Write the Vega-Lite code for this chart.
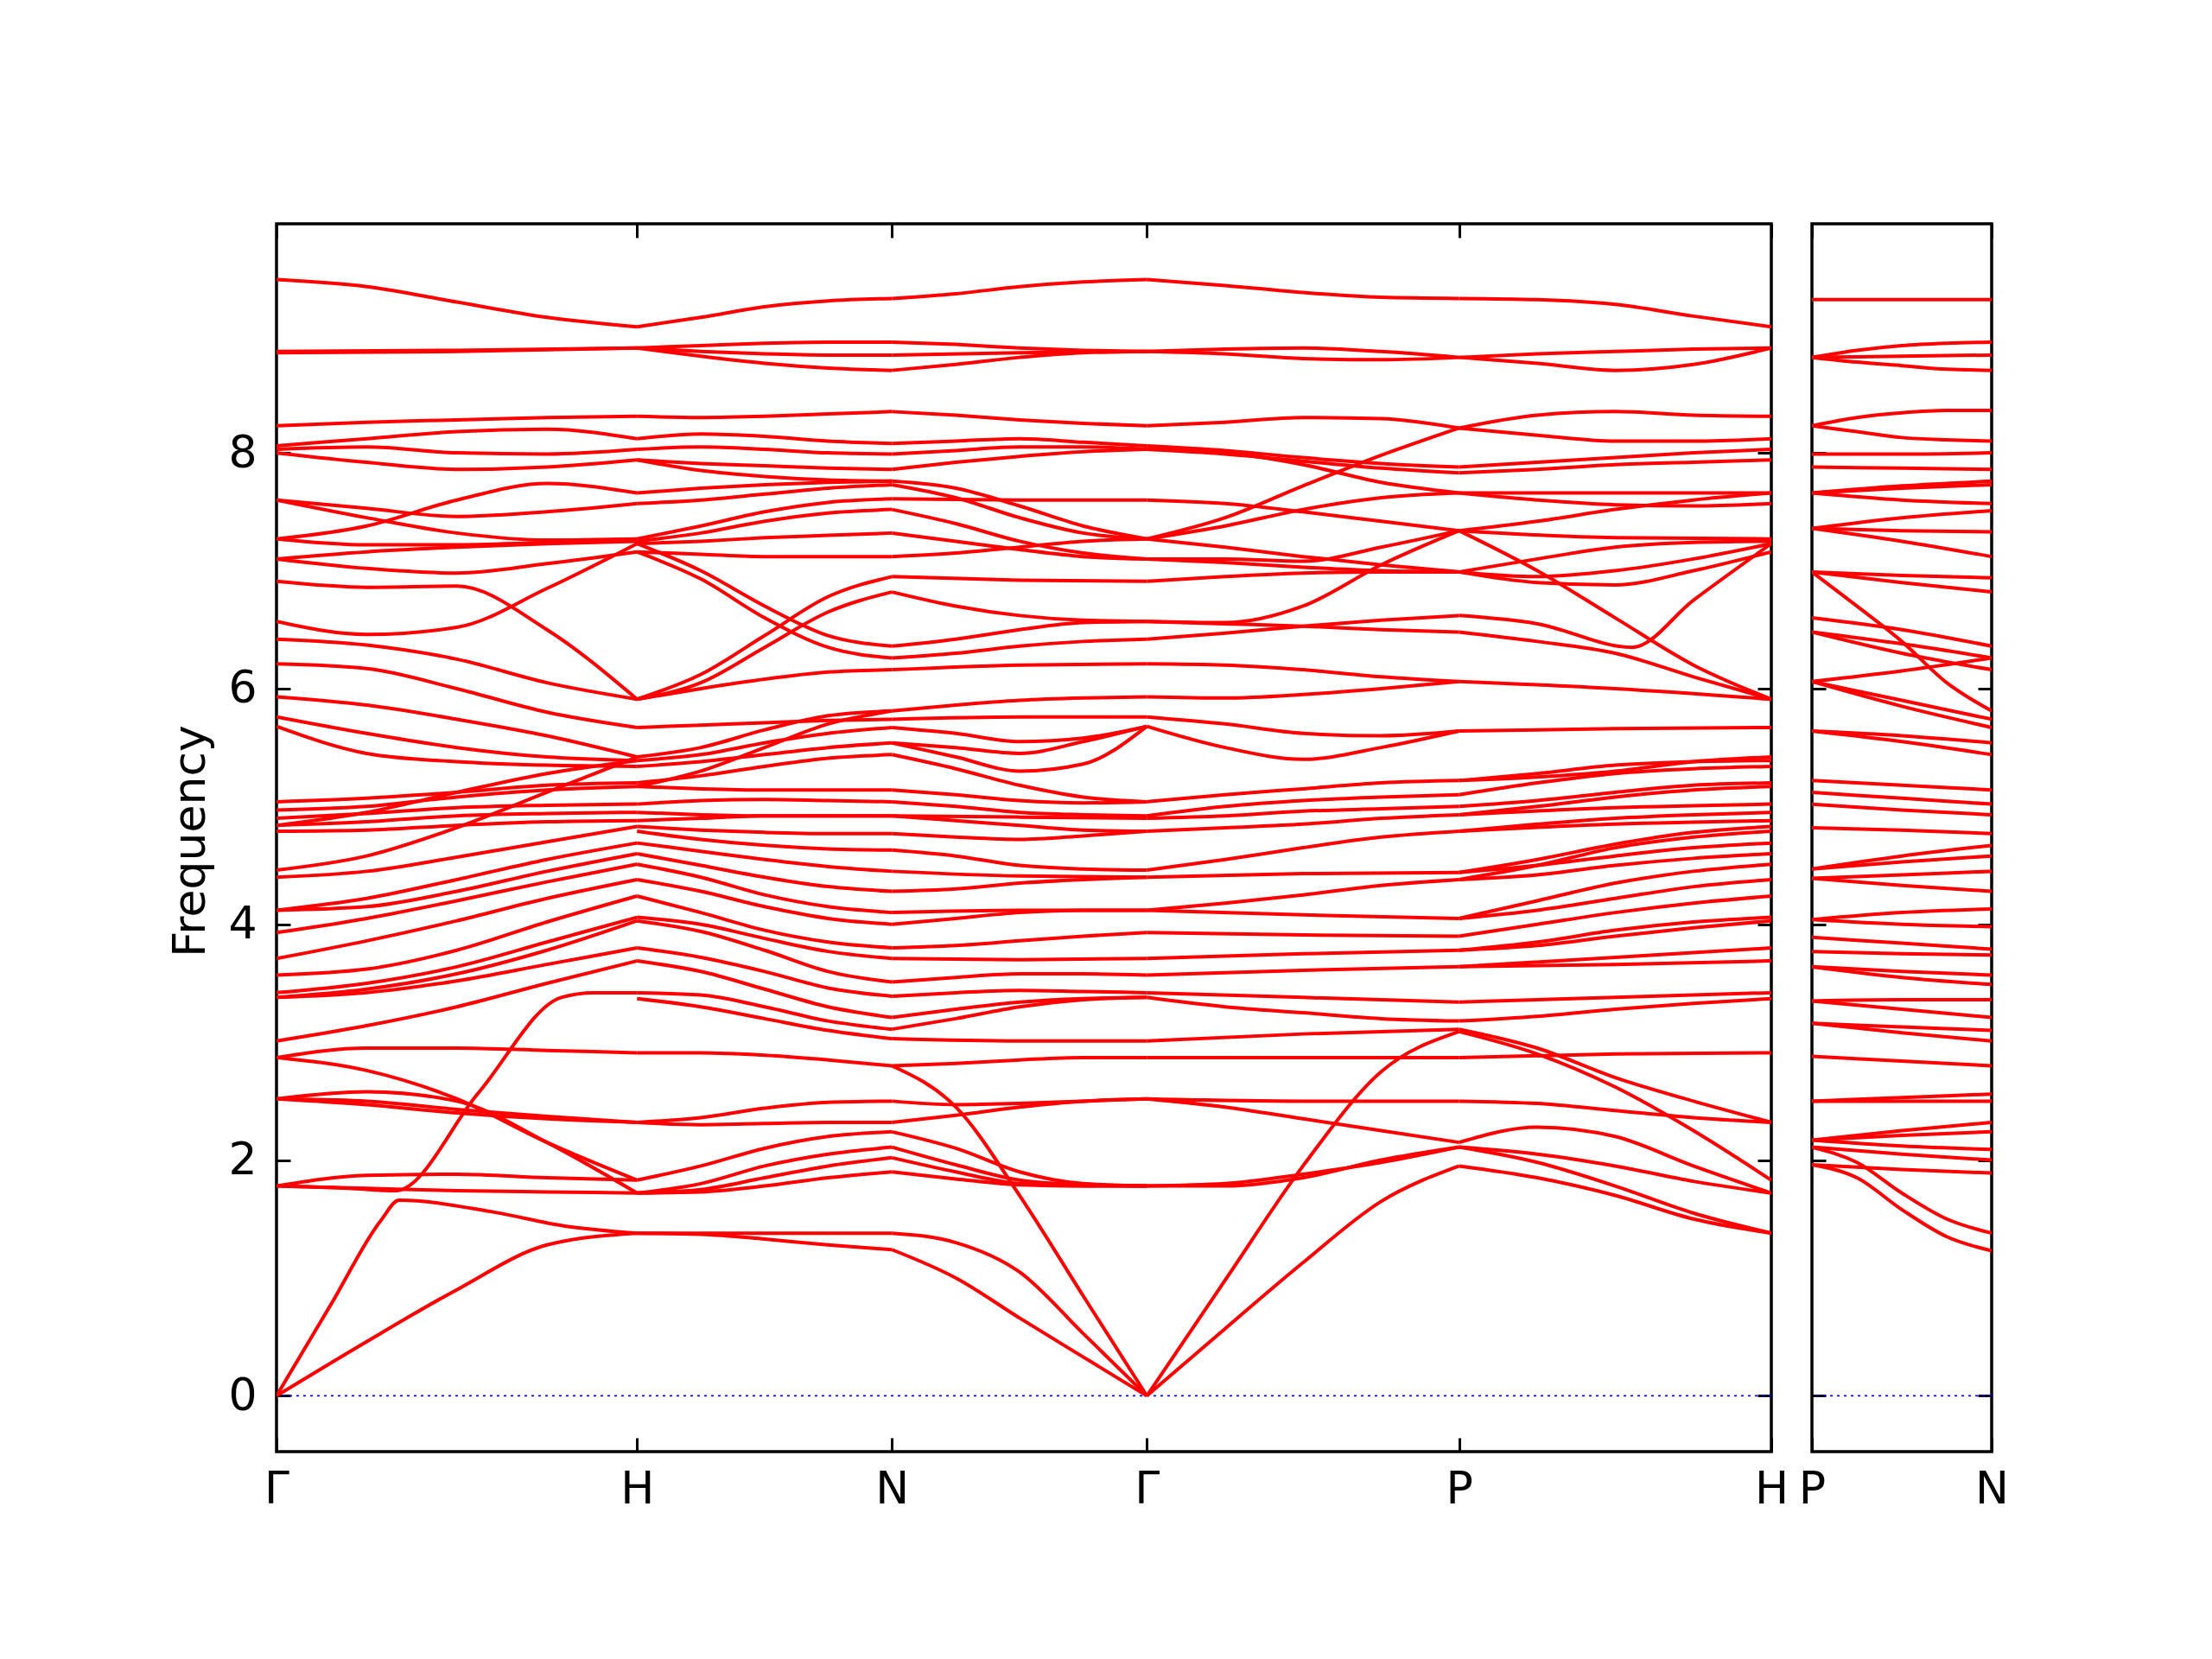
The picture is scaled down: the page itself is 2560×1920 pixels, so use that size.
{
"$schema":"https://vega.github.io/schema/vega-lite/v6.json",
"background":"white",
"padding":{"left":192,"top":255,"right":5,"bottom":5},
"spacing":7,
"config":{"view":{"stroke":"black","strokeWidth":3.5},"axis":{"domain":false,"grid":false,"tickColor":"black","tickWidth":3,"tickSize":-16,"labelFont":"DejaVu Sans","labelFontSize":52,"labelColor":"black","labelPadding":39,"titleFont":"DejaVu Sans","titleFontSize":52,"titleFontWeight":"normal","titleColor":"black"}},
"datasets":{
"main":[
{"k":"a1","x":0,"y":9.47},{"k":"a1","x":0.25,"y":9.41},{"k":"a1","x":0.5,"y":9.28},{"k":"a1","x":0.75,"y":9.15},{"k":"a1","x":1,"y":9.07},
{"k":"a2","x":0,"y":8.86},{"k":"a2","x":0.5,"y":8.87},{"k":"a2","x":1,"y":8.89},
{"k":"a3","x":0,"y":8.85},{"k":"a3","x":0.5,"y":8.86},{"k":"a3","x":1,"y":8.89},
{"k":"a4","x":0,"y":8.23},{"k":"a4","x":0.25,"y":8.26},{"k":"a4","x":0.5,"y":8.28},{"k":"a4","x":0.75,"y":8.3},{"k":"a4","x":1,"y":8.31},
{"k":"a5","x":0,"y":8.06},{"k":"a5","x":0.25,"y":8.12},{"k":"a5","x":0.5,"y":8.18},{"k":"a5","x":0.75,"y":8.2},{"k":"a5","x":1,"y":8.12},
{"k":"a6","x":0,"y":8.03},{"k":"a6","x":0.25,"y":8.05},{"k":"a6","x":0.5,"y":8.0},{"k":"a6","x":0.75,"y":7.99},{"k":"a6","x":1,"y":8.03},
{"k":"a7","x":0,"y":8.0},{"k":"a7","x":0.25,"y":7.92},{"k":"a7","x":0.5,"y":7.86},{"k":"a7","x":0.75,"y":7.88},{"k":"a7","x":1,"y":7.94},
{"k":"a8","x":0,"y":7.6},{"k":"a8","x":0.25,"y":7.53},{"k":"a8","x":0.5,"y":7.46},{"k":"a8","x":0.75,"y":7.5},{"k":"a8","x":1,"y":7.57},
{"k":"a9","x":0,"y":7.27},{"k":"a9","x":0.25,"y":7.38},{"k":"a9","x":0.5,"y":7.6},{"k":"a9","x":0.75,"y":7.74},{"k":"a9","x":1,"y":7.66},
{"k":"a10","x":0,"y":7.27},{"k":"a10","x":0.25,"y":7.22},{"k":"a10","x":0.5,"y":7.22},{"k":"a10","x":0.75,"y":7.24},{"k":"a10","x":1,"y":7.27},
{"k":"a11","x":0,"y":7.1},{"k":"a11","x":0.25,"y":7.16},{"k":"a11","x":0.5,"y":7.2},{"k":"a11","x":0.75,"y":7.23},{"k":"a11","x":1,"y":7.25},
{"k":"a12","x":0,"y":7.1},{"k":"a12","x":0.25,"y":7.02},{"k":"a12","x":0.5,"y":6.98},{"k":"a12","x":0.75,"y":7.06},{"k":"a12","x":1,"y":7.16},
{"k":"a13","x":0,"y":6.91},{"k":"a13","x":0.25,"y":6.86},{"k":"a13","x":0.5,"y":6.87},{"k":"a13","x":0.75,"y":6.5},{"k":"a13","x":1,"y":5.91},
{"k":"a14","x":0,"y":6.57},{"k":"a14","x":0.25,"y":6.46},{"k":"a14","x":0.5,"y":6.52},{"k":"a14","x":0.75,"y":6.85},{"k":"a14","x":1,"y":7.23},
{"k":"a15","x":0,"y":6.42},{"k":"a15","x":0.25,"y":6.37},{"k":"a15","x":0.5,"y":6.25},{"k":"a15","x":0.75,"y":6.05},{"k":"a15","x":1,"y":5.91},
{"k":"a16","x":0,"y":6.21},{"k":"a16","x":0.25,"y":6.17},{"k":"a16","x":0.5,"y":6.0},{"k":"a16","x":0.75,"y":5.8},{"k":"a16","x":1,"y":5.67},
{"k":"a17","x":0,"y":5.93},{"k":"a17","x":0.25,"y":5.86},{"k":"a17","x":0.5,"y":5.74},{"k":"a17","x":0.75,"y":5.6},{"k":"a17","x":1,"y":5.42},
{"k":"a18","x":0,"y":5.76},{"k":"a18","x":0.25,"y":5.62},{"k":"a18","x":0.5,"y":5.5},{"k":"a18","x":0.75,"y":5.42},{"k":"a18","x":1,"y":5.39},
{"k":"a19","x":0,"y":5.68},{"k":"a19","x":0.25,"y":5.45},{"k":"a19","x":0.5,"y":5.38},{"k":"a19","x":0.75,"y":5.35},{"k":"a19","x":1,"y":5.34},
{"k":"a20","x":0,"y":5.04},{"k":"a20","x":0.25,"y":5.07},{"k":"a20","x":0.5,"y":5.12},{"k":"a20","x":0.75,"y":5.18},{"k":"a20","x":1,"y":5.2},
{"k":"a21","x":0,"y":4.97},{"k":"a21","x":0.25,"y":5.0},{"k":"a21","x":0.5,"y":5.08},{"k":"a21","x":0.75,"y":5.14},{"k":"a21","x":1,"y":5.17},
{"k":"a22","x":0,"y":4.9},{"k":"a22","x":0.25,"y":4.94},{"k":"a22","x":0.5,"y":4.99},{"k":"a22","x":0.75,"y":5.01},{"k":"a22","x":1,"y":5.02},
{"k":"a23","x":0,"y":4.84},{"k":"a23","x":0.25,"y":4.87},{"k":"a23","x":0.5,"y":4.92},{"k":"a23","x":0.75,"y":4.94},{"k":"a23","x":1,"y":4.95},
{"k":"a24","x":0,"y":4.79},{"k":"a24","x":0.25,"y":4.8},{"k":"a24","x":0.5,"y":4.84},{"k":"a24","x":0.75,"y":4.87},{"k":"a24","x":1,"y":4.88},
{"k":"a25","x":0,"y":4.46},{"k":"a25","x":0.25,"y":4.58},{"k":"a25","x":0.5,"y":4.82},{"k":"a25","x":0.75,"y":5.12},{"k":"a25","x":1,"y":5.42},
{"k":"a26","x":0,"y":4.4},{"k":"a26","x":0.25,"y":4.45},{"k":"a26","x":0.5,"y":4.57},{"k":"a26","x":0.75,"y":4.7},{"k":"a26","x":1,"y":4.83},
{"k":"a27","x":0,"y":4.12},{"k":"a27","x":0.25,"y":4.22},{"k":"a27","x":0.5,"y":4.38},{"k":"a27","x":0.75,"y":4.55},{"k":"a27","x":1,"y":4.69},
{"k":"a28","x":0,"y":4.12},{"k":"a28","x":0.25,"y":4.15},{"k":"a28","x":0.5,"y":4.28},{"k":"a28","x":0.75,"y":4.45},{"k":"a28","x":1,"y":4.6},
{"k":"a29","x":0,"y":3.93},{"k":"a29","x":0.25,"y":4.05},{"k":"a29","x":0.5,"y":4.2},{"k":"a29","x":0.75,"y":4.36},{"k":"a29","x":1,"y":4.51},
{"k":"a30","x":0,"y":3.71},{"k":"a30","x":0.25,"y":3.86},{"k":"a30","x":0.5,"y":4.03},{"k":"a30","x":0.75,"y":4.22},{"k":"a30","x":1,"y":4.38},
{"k":"a31","x":0,"y":3.57},{"k":"a31","x":0.25,"y":3.62},{"k":"a31","x":0.5,"y":3.78},{"k":"a31","x":0.75,"y":4.02},{"k":"a31","x":1,"y":4.24},
{"k":"a32","x":0,"y":3.42},{"k":"a32","x":0.25,"y":3.5},{"k":"a32","x":0.5,"y":3.64},{"k":"a32","x":0.75,"y":3.85},{"k":"a32","x":1,"y":4.06},
{"k":"a33","x":0,"y":3.38},{"k":"a33","x":0.25,"y":3.45},{"k":"a33","x":0.5,"y":3.58},{"k":"a33","x":0.75,"y":3.78},{"k":"a33","x":1,"y":4.03},
{"k":"a34","x":0,"y":3.38},{"k":"a34","x":0.25,"y":3.42},{"k":"a34","x":0.5,"y":3.52},{"k":"a34","x":0.75,"y":3.66},{"k":"a34","x":1,"y":3.8},
{"k":"a35","x":0,"y":3.01},{"k":"a35","x":0.25,"y":3.14},{"k":"a35","x":0.5,"y":3.3},{"k":"a35","x":0.75,"y":3.5},{"k":"a35","x":1,"y":3.69},
{"k":"a36","x":0,"y":2.87},{"k":"a36","x":0.25,"y":2.95},{"k":"a36","x":0.5,"y":2.95},{"k":"a36","x":0.75,"y":2.93},{"k":"a36","x":1,"y":2.91},
{"k":"a37","x":0,"y":2.87},{"k":"a37","x":0.25,"y":2.76},{"k":"a37","x":0.5,"y":2.52},{"k":"a37","x":0.75,"y":2.15},{"k":"a37","x":1,"y":1.83},
{"k":"a38","x":0,"y":2.52},{"k":"a38","x":0.25,"y":2.58},{"k":"a38","x":0.5,"y":2.5},{"k":"a38","x":0.75,"y":2.15},{"k":"a38","x":1,"y":1.72},
{"k":"a39","x":0,"y":2.52},{"k":"a39","x":0.25,"y":2.47},{"k":"a39","x":0.5,"y":2.4},{"k":"a39","x":0.75,"y":2.35},{"k":"a39","x":1,"y":2.32},
{"k":"a40","x":0,"y":2.52},{"k":"a40","x":0.25,"y":2.5},{"k":"a40","x":0.5,"y":2.43},{"k":"a40","x":0.75,"y":2.37},{"k":"a40","x":1,"y":2.32},
{"k":"a41","x":0,"y":1.78},{"k":"a41","x":0.25,"y":1.87},{"k":"a41","x":0.5,"y":1.88},{"k":"a41","x":0.75,"y":1.85},{"k":"a41","x":1,"y":1.83},
{"k":"a42","x":0,"y":1.78},{"k":"a42","x":0.25,"y":1.76},{"k":"a42","x":0.5,"y":1.74},{"k":"a42","x":0.75,"y":1.73},{"k":"a42","x":1,"y":1.72},
{"k":"a43","x":0,"y":1.78},{"k":"a43","x":0.2,"y":1.76},{"k":"a43","x":0.33,"y":1.74},{"k":"a43","x":0.56,"y":2.57},{"k":"a43","x":0.79,"y":3.38},{"k":"a43","x":0.88,"y":3.42},{"k":"a43","x":1,"y":3.42},
{"k":"a44","x":0,"y":0},{"k":"a44","x":0.15,"y":0.77},{"k":"a44","x":0.29,"y":1.49},{"k":"a44","x":0.34,"y":1.66},{"k":"a44","x":0.6,"y":1.56},{"k":"a44","x":0.8,"y":1.44},{"k":"a44","x":1,"y":1.38},
{"k":"a45","x":0,"y":0},{"k":"a45","x":0.25,"y":0.46},{"k":"a45","x":0.5,"y":0.9},{"k":"a45","x":0.75,"y":1.28},{"k":"a45","x":1,"y":1.38},
{"k":"a46","x":0,"y":7.6},{"k":"a46","x":0.25,"y":7.45},{"k":"a46","x":0.5,"y":7.32},{"k":"a46","x":0.75,"y":7.26},{"k":"a46","x":1,"y":7.27},
{"k":"a47","x":0,"y":4.84},{"k":"a47","x":0.25,"y":4.95},{"k":"a47","x":0.5,"y":5.12},{"k":"a47","x":0.75,"y":5.28},{"k":"a47","x":1,"y":5.39},

{"k":"b1","x":1,"y":9.07},{"k":"b1","x":1.177,"y":9.15},{"k":"b1","x":1.354,"y":9.24},{"k":"b1","x":1.53,"y":9.29},{"k":"b1","x":1.707,"y":9.31},
{"k":"b2","x":1,"y":8.89},{"k":"b2","x":1.177,"y":8.91},{"k":"b2","x":1.354,"y":8.93},{"k":"b2","x":1.53,"y":8.94},{"k":"b2","x":1.707,"y":8.94},
{"k":"b3","x":1,"y":8.89},{"k":"b3","x":1.177,"y":8.86},{"k":"b3","x":1.354,"y":8.84},{"k":"b3","x":1.53,"y":8.83},{"k":"b3","x":1.707,"y":8.83},
{"k":"b4","x":1,"y":8.89},{"k":"b4","x":1.177,"y":8.82},{"k":"b4","x":1.354,"y":8.76},{"k":"b4","x":1.53,"y":8.72},{"k":"b4","x":1.707,"y":8.7},
{"k":"b5","x":1,"y":8.31},{"k":"b5","x":1.177,"y":8.3},{"k":"b5","x":1.354,"y":8.31},{"k":"b5","x":1.53,"y":8.33},{"k":"b5","x":1.707,"y":8.35},
{"k":"b6","x":1,"y":8.12},{"k":"b6","x":1.177,"y":8.16},{"k":"b6","x":1.354,"y":8.14},{"k":"b6","x":1.53,"y":8.1},{"k":"b6","x":1.707,"y":8.08},
{"k":"b7","x":1,"y":8.03},{"k":"b7","x":1.177,"y":8.05},{"k":"b7","x":1.354,"y":8.03},{"k":"b7","x":1.53,"y":8.0},{"k":"b7","x":1.707,"y":7.99},
{"k":"b8","x":1,"y":7.94},{"k":"b8","x":1.177,"y":7.91},{"k":"b8","x":1.354,"y":7.89},{"k":"b8","x":1.53,"y":7.87},{"k":"b8","x":1.707,"y":7.86},
{"k":"b9","x":1,"y":7.66},{"k":"b9","x":1.177,"y":7.7},{"k":"b9","x":1.354,"y":7.73},{"k":"b9","x":1.53,"y":7.75},{"k":"b9","x":1.707,"y":7.76},
{"k":"b10","x":1,"y":7.57},{"k":"b10","x":1.177,"y":7.6},{"k":"b10","x":1.354,"y":7.65},{"k":"b10","x":1.53,"y":7.7},{"k":"b10","x":1.707,"y":7.73},
{"k":"b11","x":1,"y":7.27},{"k":"b11","x":1.177,"y":7.38},{"k":"b11","x":1.354,"y":7.5},{"k":"b11","x":1.53,"y":7.58},{"k":"b11","x":1.707,"y":7.61},
{"k":"b12","x":1,"y":7.25},{"k":"b12","x":1.177,"y":7.32},{"k":"b12","x":1.354,"y":7.42},{"k":"b12","x":1.53,"y":7.49},{"k":"b12","x":1.707,"y":7.52},
{"k":"b13","x":1,"y":7.23},{"k":"b13","x":1.177,"y":7.25},{"k":"b13","x":1.354,"y":7.28},{"k":"b13","x":1.53,"y":7.3},{"k":"b13","x":1.707,"y":7.32},
{"k":"b14","x":1,"y":7.16},{"k":"b14","x":1.177,"y":7.14},{"k":"b14","x":1.354,"y":7.12},{"k":"b14","x":1.53,"y":7.12},{"k":"b14","x":1.707,"y":7.12},
{"k":"b15","x":1,"y":7.23},{"k":"b15","x":1.177,"y":7.0},{"k":"b15","x":1.354,"y":6.7},{"k":"b15","x":1.53,"y":6.45},{"k":"b15","x":1.707,"y":6.36},
{"k":"b16","x":1,"y":7.16},{"k":"b16","x":1.177,"y":6.93},{"k":"b16","x":1.354,"y":6.6},{"k":"b16","x":1.53,"y":6.35},{"k":"b16","x":1.707,"y":6.26},
{"k":"b17","x":1,"y":5.91},{"k":"b17","x":1.177,"y":6.12},{"k":"b17","x":1.354,"y":6.45},{"k":"b17","x":1.53,"y":6.78},{"k":"b17","x":1.707,"y":6.95},
{"k":"b18","x":1,"y":5.91},{"k":"b18","x":1.177,"y":6.05},{"k":"b18","x":1.354,"y":6.35},{"k":"b18","x":1.53,"y":6.65},{"k":"b18","x":1.707,"y":6.82},
{"k":"b19","x":1,"y":5.91},{"k":"b19","x":1.177,"y":6.0},{"k":"b19","x":1.354,"y":6.08},{"k":"b19","x":1.53,"y":6.14},{"k":"b19","x":1.707,"y":6.16},
{"k":"b20","x":1,"y":5.67},{"k":"b20","x":1.177,"y":5.69},{"k":"b20","x":1.354,"y":5.71},{"k":"b20","x":1.53,"y":5.73},{"k":"b20","x":1.707,"y":5.74},
{"k":"b21","x":1,"y":5.42},{"k":"b21","x":1.177,"y":5.5},{"k":"b21","x":1.354,"y":5.65},{"k":"b21","x":1.53,"y":5.77},{"k":"b21","x":1.707,"y":5.81},
{"k":"b22","x":1,"y":5.39},{"k":"b22","x":1.177,"y":5.44},{"k":"b22","x":1.354,"y":5.54},{"k":"b22","x":1.53,"y":5.62},{"k":"b22","x":1.707,"y":5.67},
{"k":"b23","x":1,"y":5.34},{"k":"b23","x":1.177,"y":5.38},{"k":"b23","x":1.354,"y":5.44},{"k":"b23","x":1.53,"y":5.5},{"k":"b23","x":1.707,"y":5.54},
{"k":"b24","x":1,"y":5.2},{"k":"b24","x":1.177,"y":5.26},{"k":"b24","x":1.354,"y":5.34},{"k":"b24","x":1.53,"y":5.41},{"k":"b24","x":1.707,"y":5.44},
{"k":"b25","x":1,"y":5.17},{"k":"b25","x":1.177,"y":5.15},{"k":"b25","x":1.354,"y":5.14},{"k":"b25","x":1.53,"y":5.14},{"k":"b25","x":1.707,"y":5.14},
{"k":"b26","x":1,"y":5.02},{"k":"b26","x":1.177,"y":5.05},{"k":"b26","x":1.354,"y":5.06},{"k":"b26","x":1.53,"y":5.05},{"k":"b26","x":1.707,"y":5.04},
{"k":"b27","x":1,"y":4.95},{"k":"b27","x":1.177,"y":4.93},{"k":"b27","x":1.354,"y":4.92},{"k":"b27","x":1.53,"y":4.92},{"k":"b27","x":1.707,"y":4.92},
{"k":"b28","x":1,"y":4.88},{"k":"b28","x":1.177,"y":4.9},{"k":"b28","x":1.354,"y":4.92},{"k":"b28","x":1.53,"y":4.92},{"k":"b28","x":1.707,"y":4.92},
{"k":"b29","x":1,"y":4.83},{"k":"b29","x":1.177,"y":4.8},{"k":"b29","x":1.354,"y":4.78},{"k":"b29","x":1.53,"y":4.77},{"k":"b29","x":1.707,"y":4.77},
{"k":"b30","x":1,"y":4.79},{"k":"b30","x":1.177,"y":4.72},{"k":"b30","x":1.354,"y":4.67},{"k":"b30","x":1.53,"y":4.64},{"k":"b30","x":1.707,"y":4.63},
{"k":"b31","x":1,"y":4.69},{"k":"b31","x":1.177,"y":4.62},{"k":"b31","x":1.354,"y":4.55},{"k":"b31","x":1.53,"y":4.49},{"k":"b31","x":1.707,"y":4.45},
{"k":"b32","x":1,"y":4.6},{"k":"b32","x":1.177,"y":4.5},{"k":"b32","x":1.354,"y":4.4},{"k":"b32","x":1.53,"y":4.32},{"k":"b32","x":1.707,"y":4.28},
{"k":"b33","x":1,"y":4.51},{"k":"b33","x":1.177,"y":4.4},{"k":"b33","x":1.354,"y":4.25},{"k":"b33","x":1.53,"y":4.15},{"k":"b33","x":1.707,"y":4.1},
{"k":"b34","x":1,"y":4.38},{"k":"b34","x":1.177,"y":4.28},{"k":"b34","x":1.354,"y":4.15},{"k":"b34","x":1.53,"y":4.05},{"k":"b34","x":1.707,"y":4.0},
{"k":"b35","x":1,"y":4.24},{"k":"b35","x":1.177,"y":4.1},{"k":"b35","x":1.354,"y":3.95},{"k":"b35","x":1.53,"y":3.85},{"k":"b35","x":1.707,"y":3.8},
{"k":"b36","x":1,"y":4.06},{"k":"b36","x":1.177,"y":4.0},{"k":"b36","x":1.354,"y":3.88},{"k":"b36","x":1.53,"y":3.77},{"k":"b36","x":1.707,"y":3.71},
{"k":"b37","x":1,"y":4.03},{"k":"b37","x":1.177,"y":3.94},{"k":"b37","x":1.354,"y":3.78},{"k":"b37","x":1.53,"y":3.6},{"k":"b37","x":1.707,"y":3.51},
{"k":"b38","x":1,"y":3.8},{"k":"b38","x":1.177,"y":3.72},{"k":"b38","x":1.354,"y":3.6},{"k":"b38","x":1.53,"y":3.46},{"k":"b38","x":1.707,"y":3.39},
{"k":"b39","x":1,"y":3.69},{"k":"b39","x":1.177,"y":3.6},{"k":"b39","x":1.354,"y":3.45},{"k":"b39","x":1.53,"y":3.3},{"k":"b39","x":1.707,"y":3.21},
{"k":"b40","x":1,"y":3.42},{"k":"b40","x":1.177,"y":3.4},{"k":"b40","x":1.354,"y":3.3},{"k":"b40","x":1.53,"y":3.18},{"k":"b40","x":1.707,"y":3.11},
{"k":"b41","x":1,"y":3.37},{"k":"b41","x":1.177,"y":3.3},{"k":"b41","x":1.354,"y":3.2},{"k":"b41","x":1.53,"y":3.1},{"k":"b41","x":1.707,"y":3.03},
{"k":"b42","x":1,"y":2.91},{"k":"b42","x":1.177,"y":2.91},{"k":"b42","x":1.354,"y":2.89},{"k":"b42","x":1.53,"y":2.85},{"k":"b42","x":1.707,"y":2.8},
{"k":"b43","x":1,"y":2.32},{"k":"b43","x":1.177,"y":2.36},{"k":"b43","x":1.354,"y":2.44},{"k":"b43","x":1.53,"y":2.49},{"k":"b43","x":1.707,"y":2.5},
{"k":"b44","x":1,"y":2.32},{"k":"b44","x":1.177,"y":2.3},{"k":"b44","x":1.354,"y":2.31},{"k":"b44","x":1.53,"y":2.32},{"k":"b44","x":1.707,"y":2.32},
{"k":"b45","x":1,"y":1.83},{"k":"b45","x":1.177,"y":1.95},{"k":"b45","x":1.354,"y":2.1},{"k":"b45","x":1.53,"y":2.2},{"k":"b45","x":1.707,"y":2.24},
{"k":"b46","x":1,"y":1.72},{"k":"b46","x":1.177,"y":1.8},{"k":"b46","x":1.354,"y":1.95},{"k":"b46","x":1.53,"y":2.05},{"k":"b46","x":1.707,"y":2.11},
{"k":"b47","x":1,"y":1.72},{"k":"b47","x":1.177,"y":1.75},{"k":"b47","x":1.354,"y":1.85},{"k":"b47","x":1.53,"y":1.95},{"k":"b47","x":1.707,"y":2.02},
{"k":"b48","x":1,"y":1.72},{"k":"b48","x":1.177,"y":1.73},{"k":"b48","x":1.354,"y":1.78},{"k":"b48","x":1.53,"y":1.85},{"k":"b48","x":1.707,"y":1.9},
{"k":"b49","x":1,"y":1.38},{"k":"b49","x":1.354,"y":1.38},{"k":"b49","x":1.707,"y":1.38},
{"k":"b50","x":1,"y":1.38},{"k":"b50","x":1.177,"y":1.37},{"k":"b50","x":1.354,"y":1.33},{"k":"b50","x":1.53,"y":1.28},{"k":"b50","x":1.707,"y":1.24},
{"k":"b51","x":1,"y":7.94},{"k":"b51","x":1.177,"y":7.85},{"k":"b51","x":1.354,"y":7.8},{"k":"b51","x":1.53,"y":7.77},{"k":"b51","x":1.707,"y":7.76},
{"k":"b52","x":1,"y":5.17},{"k":"b52","x":1.177,"y":5.3},{"k":"b52","x":1.354,"y":5.5},{"k":"b52","x":1.53,"y":5.7},{"k":"b52","x":1.707,"y":5.81},

{"k":"c1","x":1.707,"y":9.31},{"k":"c1","x":1.884,"y":9.35},{"k":"c1","x":2.061,"y":9.41},{"k":"c1","x":2.237,"y":9.45},{"k":"c1","x":2.414,"y":9.47},
{"k":"c2","x":1.707,"y":8.94},{"k":"c2","x":1.884,"y":8.92},{"k":"c2","x":2.061,"y":8.89},{"k":"c2","x":2.237,"y":8.87},{"k":"c2","x":2.414,"y":8.86},
{"k":"c3","x":1.707,"y":8.83},{"k":"c3","x":2.061,"y":8.85},{"k":"c3","x":2.414,"y":8.86},
{"k":"c4","x":1.707,"y":8.7},{"k":"c4","x":1.884,"y":8.75},{"k":"c4","x":2.061,"y":8.81},{"k":"c4","x":2.237,"y":8.85},{"k":"c4","x":2.414,"y":8.86},
{"k":"c5","x":1.707,"y":8.35},{"k":"c5","x":1.884,"y":8.32},{"k":"c5","x":2.061,"y":8.28},{"k":"c5","x":2.237,"y":8.25},{"k":"c5","x":2.414,"y":8.23},
{"k":"c6","x":1.707,"y":8.08},{"k":"c6","x":1.884,"y":8.1},{"k":"c6","x":2.061,"y":8.12},{"k":"c6","x":2.237,"y":8.09},{"k":"c6","x":2.414,"y":8.06},
{"k":"c7","x":1.707,"y":7.99},{"k":"c7","x":1.884,"y":8.02},{"k":"c7","x":2.061,"y":8.05},{"k":"c7","x":2.237,"y":8.05},{"k":"c7","x":2.414,"y":8.03},
{"k":"c8","x":1.707,"y":7.86},{"k":"c8","x":1.884,"y":7.92},{"k":"c8","x":2.061,"y":7.97},{"k":"c8","x":2.237,"y":8.01},{"k":"c8","x":2.414,"y":8.03},
{"k":"c9","x":1.707,"y":7.76},{"k":"c9","x":1.884,"y":7.7},{"k":"c9","x":2.061,"y":7.55},{"k":"c9","x":2.237,"y":7.38},{"k":"c9","x":2.414,"y":7.27},
{"k":"c10","x":1.707,"y":7.73},{"k":"c10","x":1.884,"y":7.62},{"k":"c10","x":2.061,"y":7.45},{"k":"c10","x":2.237,"y":7.32},{"k":"c10","x":2.414,"y":7.27},
{"k":"c11","x":1.707,"y":7.61},{"k":"c11","x":2.061,"y":7.6},{"k":"c11","x":2.414,"y":7.6},
{"k":"c12","x":1.707,"y":7.52},{"k":"c12","x":1.884,"y":7.4},{"k":"c12","x":2.061,"y":7.25},{"k":"c12","x":2.237,"y":7.15},{"k":"c12","x":2.414,"y":7.1},
{"k":"c13","x":1.707,"y":7.32},{"k":"c13","x":1.884,"y":7.25},{"k":"c13","x":2.061,"y":7.18},{"k":"c13","x":2.237,"y":7.12},{"k":"c13","x":2.414,"y":7.1},
{"k":"c14","x":1.707,"y":7.12},{"k":"c14","x":1.884,"y":7.15},{"k":"c14","x":2.061,"y":7.2},{"k":"c14","x":2.237,"y":7.25},{"k":"c14","x":2.414,"y":7.27},
{"k":"c15","x":1.707,"y":6.95},{"k":"c15","x":2.061,"y":6.92},{"k":"c15","x":2.414,"y":6.91},
{"k":"c16","x":1.707,"y":6.82},{"k":"c16","x":1.884,"y":6.7},{"k":"c16","x":2.061,"y":6.62},{"k":"c16","x":2.237,"y":6.58},{"k":"c16","x":2.414,"y":6.57},
{"k":"c17","x":1.707,"y":6.36},{"k":"c17","x":1.884,"y":6.42},{"k":"c17","x":2.061,"y":6.5},{"k":"c17","x":2.237,"y":6.56},{"k":"c17","x":2.414,"y":6.57},
{"k":"c18","x":1.707,"y":6.26},{"k":"c18","x":1.884,"y":6.3},{"k":"c18","x":2.061,"y":6.36},{"k":"c18","x":2.237,"y":6.4},{"k":"c18","x":2.414,"y":6.42},
{"k":"c19","x":1.707,"y":6.16},{"k":"c19","x":2.061,"y":6.2},{"k":"c19","x":2.414,"y":6.21},
{"k":"c20","x":1.707,"y":5.81},{"k":"c20","x":1.884,"y":5.86},{"k":"c20","x":2.061,"y":5.9},{"k":"c20","x":2.237,"y":5.92},{"k":"c20","x":2.414,"y":5.93},
{"k":"c21","x":1.707,"y":5.74},{"k":"c21","x":2.061,"y":5.76},{"k":"c21","x":2.414,"y":5.76},
{"k":"c22","x":1.707,"y":5.67},{"k":"c22","x":1.884,"y":5.62},{"k":"c22","x":2.061,"y":5.55},{"k":"c22","x":2.237,"y":5.58},{"k":"c22","x":2.414,"y":5.68},
{"k":"c23","x":1.707,"y":5.54},{"k":"c23","x":1.884,"y":5.5},{"k":"c23","x":2.061,"y":5.45},{"k":"c23","x":2.237,"y":5.55},{"k":"c23","x":2.414,"y":5.68},
{"k":"c24","x":1.707,"y":5.44},{"k":"c24","x":1.884,"y":5.32},{"k":"c24","x":2.061,"y":5.18},{"k":"c24","x":2.237,"y":5.08},{"k":"c24","x":2.414,"y":5.04},
{"k":"c25","x":1.707,"y":5.14},{"k":"c25","x":1.884,"y":5.1},{"k":"c25","x":2.061,"y":5.05},{"k":"c25","x":2.237,"y":5.03},{"k":"c25","x":2.414,"y":5.04},
{"k":"c26","x":1.707,"y":5.04},{"k":"c26","x":1.884,"y":5.0},{"k":"c26","x":2.061,"y":4.95},{"k":"c26","x":2.237,"y":4.93},{"k":"c26","x":2.414,"y":4.92},
{"k":"c27","x":1.707,"y":4.92},{"k":"c27","x":2.061,"y":4.91},{"k":"c27","x":2.414,"y":4.9},
{"k":"c28","x":1.707,"y":4.92},{"k":"c28","x":1.884,"y":4.88},{"k":"c28","x":2.061,"y":4.84},{"k":"c28","x":2.237,"y":4.8},{"k":"c28","x":2.414,"y":4.79},
{"k":"c29","x":1.707,"y":4.77},{"k":"c29","x":1.884,"y":4.74},{"k":"c29","x":2.061,"y":4.72},{"k":"c29","x":2.237,"y":4.75},{"k":"c29","x":2.414,"y":4.79},
{"k":"c30","x":1.707,"y":4.63},{"k":"c30","x":1.884,"y":4.58},{"k":"c30","x":2.061,"y":4.5},{"k":"c30","x":2.237,"y":4.47},{"k":"c30","x":2.414,"y":4.46},
{"k":"c31","x":1.707,"y":4.45},{"k":"c31","x":2.061,"y":4.41},{"k":"c31","x":2.414,"y":4.4},
{"k":"c32","x":1.707,"y":4.28},{"k":"c32","x":1.884,"y":4.3},{"k":"c32","x":2.061,"y":4.35},{"k":"c32","x":2.237,"y":4.38},{"k":"c32","x":2.414,"y":4.4},
{"k":"c33","x":1.707,"y":4.1},{"k":"c33","x":2.061,"y":4.12},{"k":"c33","x":2.414,"y":4.12},
{"k":"c34","x":1.707,"y":4.0},{"k":"c34","x":1.884,"y":4.05},{"k":"c34","x":2.061,"y":4.1},{"k":"c34","x":2.237,"y":4.12},{"k":"c34","x":2.414,"y":4.12},
{"k":"c35","x":1.707,"y":3.8},{"k":"c35","x":1.884,"y":3.82},{"k":"c35","x":2.061,"y":3.86},{"k":"c35","x":2.237,"y":3.9},{"k":"c35","x":2.414,"y":3.93},
{"k":"c36","x":1.707,"y":3.71},{"k":"c36","x":2.061,"y":3.7},{"k":"c36","x":2.414,"y":3.71},
{"k":"c37","x":1.707,"y":3.51},{"k":"c37","x":1.884,"y":3.55},{"k":"c37","x":2.061,"y":3.58},{"k":"c37","x":2.237,"y":3.58},{"k":"c37","x":2.414,"y":3.57},
{"k":"c38","x":1.707,"y":3.39},{"k":"c38","x":1.884,"y":3.42},{"k":"c38","x":2.061,"y":3.44},{"k":"c38","x":2.237,"y":3.43},{"k":"c38","x":2.414,"y":3.42},
{"k":"c39","x":1.707,"y":3.21},{"k":"c39","x":1.884,"y":3.28},{"k":"c39","x":2.061,"y":3.34},{"k":"c39","x":2.237,"y":3.37},{"k":"c39","x":2.414,"y":3.38},
{"k":"c40","x":1.707,"y":3.11},{"k":"c40","x":1.884,"y":3.2},{"k":"c40","x":2.061,"y":3.3},{"k":"c40","x":2.237,"y":3.36},{"k":"c40","x":2.414,"y":3.38},
{"k":"c41","x":1.707,"y":3.03},{"k":"c41","x":2.061,"y":3.01},{"k":"c41","x":2.414,"y":3.01},
{"k":"c42","x":1.707,"y":2.8},{"k":"c42","x":1.884,"y":2.82},{"k":"c42","x":2.061,"y":2.85},{"k":"c42","x":2.237,"y":2.87},{"k":"c42","x":2.414,"y":2.87},
{"k":"c43","x":1.707,"y":2.5},{"k":"c43","x":1.884,"y":2.47},{"k":"c43","x":2.061,"y":2.48},{"k":"c43","x":2.237,"y":2.5},{"k":"c43","x":2.414,"y":2.52},
{"k":"c44","x":1.707,"y":2.32},{"k":"c44","x":1.884,"y":2.38},{"k":"c44","x":2.061,"y":2.45},{"k":"c44","x":2.237,"y":2.5},{"k":"c44","x":2.414,"y":2.52},
{"k":"c45","x":1.707,"y":2.24},{"k":"c45","x":1.884,"y":2.1},{"k":"c45","x":2.061,"y":1.9},{"k":"c45","x":2.237,"y":1.8},{"k":"c45","x":2.414,"y":1.78},
{"k":"c46","x":1.707,"y":2.11},{"k":"c46","x":1.884,"y":1.96},{"k":"c46","x":2.061,"y":1.83},{"k":"c46","x":2.237,"y":1.79},{"k":"c46","x":2.414,"y":1.78},
{"k":"c47","x":1.707,"y":2.02},{"k":"c47","x":1.884,"y":1.9},{"k":"c47","x":2.061,"y":1.8},{"k":"c47","x":2.237,"y":1.78},{"k":"c47","x":2.414,"y":1.78},
{"k":"c48","x":1.707,"y":1.9},{"k":"c48","x":1.884,"y":1.84},{"k":"c48","x":2.061,"y":1.79},{"k":"c48","x":2.237,"y":1.78},{"k":"c48","x":2.414,"y":1.78},
{"k":"c49","x":1.707,"y":2.8},{"k":"c49","x":1.884,"y":2.45},{"k":"c49","x":2.061,"y":1.7},{"k":"c49","x":2.237,"y":0.85},{"k":"c49","x":2.414,"y":0},
{"k":"c50","x":1.707,"y":1.38},{"k":"c50","x":1.884,"y":1.3},{"k":"c50","x":2.061,"y":1.05},{"k":"c50","x":2.237,"y":0.53},{"k":"c50","x":2.414,"y":0},
{"k":"c51","x":1.707,"y":1.24},{"k":"c51","x":1.884,"y":1.0},{"k":"c51","x":2.061,"y":0.66},{"k":"c51","x":2.237,"y":0.33},{"k":"c51","x":2.414,"y":0},
{"k":"c52","x":1.707,"y":5.54},{"k":"c52","x":1.884,"y":5.42},{"k":"c52","x":2.061,"y":5.3},{"k":"c52","x":2.237,"y":5.36},{"k":"c52","x":2.414,"y":5.68},

{"k":"d1","x":2.414,"y":9.47},{"k":"d1","x":2.631,"y":9.42},{"k":"d1","x":2.847,"y":9.36},{"k":"d1","x":3.064,"y":9.32},{"k":"d1","x":3.28,"y":9.31},
{"k":"d2","x":2.414,"y":8.86},{"k":"d2","x":2.631,"y":8.88},{"k":"d2","x":2.847,"y":8.89},{"k":"d2","x":3.064,"y":8.86},{"k":"d2","x":3.28,"y":8.81},
{"k":"d3","x":2.414,"y":8.86},{"k":"d3","x":2.631,"y":8.84},{"k":"d3","x":2.847,"y":8.8},{"k":"d3","x":3.064,"y":8.79},{"k":"d3","x":3.28,"y":8.81},
{"k":"d4","x":2.414,"y":8.23},{"k":"d4","x":2.631,"y":8.26},{"k":"d4","x":2.847,"y":8.3},{"k":"d4","x":3.064,"y":8.29},{"k":"d4","x":3.28,"y":8.21},
{"k":"d5","x":2.414,"y":8.06},{"k":"d5","x":2.631,"y":8.02},{"k":"d5","x":2.847,"y":7.96},{"k":"d5","x":3.064,"y":7.91},{"k":"d5","x":3.28,"y":7.88},
{"k":"d6","x":2.414,"y":8.03},{"k":"d6","x":2.631,"y":7.99},{"k":"d6","x":2.847,"y":7.93},{"k":"d6","x":3.064,"y":7.87},{"k":"d6","x":3.28,"y":7.83},
{"k":"d7","x":2.414,"y":7.27},{"k":"d7","x":2.631,"y":7.45},{"k":"d7","x":2.847,"y":7.72},{"k":"d7","x":3.064,"y":7.98},{"k":"d7","x":3.28,"y":8.21},
{"k":"d8","x":2.414,"y":7.27},{"k":"d8","x":2.631,"y":7.38},{"k":"d8","x":2.847,"y":7.52},{"k":"d8","x":3.064,"y":7.62},{"k":"d8","x":3.28,"y":7.66},
{"k":"d9","x":2.414,"y":7.6},{"k":"d9","x":2.631,"y":7.57},{"k":"d9","x":2.847,"y":7.5},{"k":"d9","x":3.064,"y":7.42},{"k":"d9","x":3.28,"y":7.34},
{"k":"d10","x":2.414,"y":7.27},{"k":"d10","x":2.631,"y":7.2},{"k":"d10","x":2.847,"y":7.12},{"k":"d10","x":3.064,"y":7.05},{"k":"d10","x":3.28,"y":6.99},
{"k":"d11","x":2.414,"y":7.1},{"k":"d11","x":2.631,"y":7.07},{"k":"d11","x":2.847,"y":7.03},{"k":"d11","x":3.064,"y":7.0},{"k":"d11","x":3.28,"y":6.99},
{"k":"d12","x":2.414,"y":7.1},{"k":"d12","x":2.631,"y":7.1},{"k":"d12","x":2.847,"y":7.08},{"k":"d12","x":3.064,"y":7.2},{"k":"d12","x":3.28,"y":7.34},
{"k":"d13","x":2.414,"y":6.91},{"k":"d13","x":2.631,"y":6.95},{"k":"d13","x":2.847,"y":6.98},{"k":"d13","x":3.064,"y":6.99},{"k":"d13","x":3.28,"y":6.99},
{"k":"d14","x":2.414,"y":6.57},{"k":"d14","x":2.631,"y":6.56},{"k":"d14","x":2.847,"y":6.7},{"k":"d14","x":3.064,"y":7.05},{"k":"d14","x":3.28,"y":7.34},
{"k":"d15","x":2.414,"y":6.57},{"k":"d15","x":2.631,"y":6.55},{"k":"d15","x":2.847,"y":6.53},{"k":"d15","x":3.064,"y":6.5},{"k":"d15","x":3.28,"y":6.48},
{"k":"d16","x":2.414,"y":6.42},{"k":"d16","x":2.631,"y":6.47},{"k":"d16","x":2.847,"y":6.53},{"k":"d16","x":3.064,"y":6.58},{"k":"d16","x":3.28,"y":6.62},
{"k":"d17","x":2.414,"y":6.21},{"k":"d17","x":2.631,"y":6.2},{"k":"d17","x":2.847,"y":6.16},{"k":"d17","x":3.064,"y":6.1},{"k":"d17","x":3.28,"y":6.06},
{"k":"d18","x":2.414,"y":5.93},{"k":"d18","x":2.631,"y":5.92},{"k":"d18","x":2.847,"y":5.95},{"k":"d18","x":3.064,"y":6.0},{"k":"d18","x":3.28,"y":6.06},
{"k":"d19","x":2.414,"y":5.76},{"k":"d19","x":2.631,"y":5.7},{"k":"d19","x":2.847,"y":5.62},{"k":"d19","x":3.064,"y":5.6},{"k":"d19","x":3.28,"y":5.64},
{"k":"d20","x":2.414,"y":5.68},{"k":"d20","x":2.631,"y":5.5},{"k":"d20","x":2.847,"y":5.4},{"k":"d20","x":3.064,"y":5.5},{"k":"d20","x":3.28,"y":5.64},
{"k":"d21","x":2.414,"y":5.04},{"k":"d21","x":2.631,"y":5.1},{"k":"d21","x":2.847,"y":5.15},{"k":"d21","x":3.064,"y":5.2},{"k":"d21","x":3.28,"y":5.22},
{"k":"d22","x":2.414,"y":4.92},{"k":"d22","x":2.631,"y":5.0},{"k":"d22","x":2.847,"y":5.05},{"k":"d22","x":3.064,"y":5.08},{"k":"d22","x":3.28,"y":5.1},
{"k":"d23","x":2.414,"y":4.9},{"k":"d23","x":2.631,"y":4.92},{"k":"d23","x":2.847,"y":4.96},{"k":"d23","x":3.064,"y":4.98},{"k":"d23","x":3.28,"y":5.0},
{"k":"d24","x":2.414,"y":4.79},{"k":"d24","x":2.631,"y":4.82},{"k":"d24","x":2.847,"y":4.85},{"k":"d24","x":3.064,"y":4.9},{"k":"d24","x":3.28,"y":4.93},
{"k":"d25","x":2.414,"y":4.46},{"k":"d25","x":2.631,"y":4.55},{"k":"d25","x":2.847,"y":4.65},{"k":"d25","x":3.064,"y":4.74},{"k":"d25","x":3.28,"y":4.79},
{"k":"d26","x":2.414,"y":4.4},{"k":"d26","x":2.847,"y":4.43},{"k":"d26","x":3.28,"y":4.44},
{"k":"d27","x":2.414,"y":4.12},{"k":"d27","x":2.631,"y":4.18},{"k":"d27","x":2.847,"y":4.25},{"k":"d27","x":3.064,"y":4.33},{"k":"d27","x":3.28,"y":4.38},
{"k":"d28","x":2.414,"y":4.12},{"k":"d28","x":2.847,"y":4.08},{"k":"d28","x":3.28,"y":4.05},
{"k":"d29","x":2.414,"y":3.93},{"k":"d29","x":2.847,"y":3.91},{"k":"d29","x":3.28,"y":3.9},
{"k":"d30","x":2.414,"y":3.71},{"k":"d30","x":2.847,"y":3.75},{"k":"d30","x":3.28,"y":3.78},
{"k":"d31","x":2.414,"y":3.57},{"k":"d31","x":2.847,"y":3.61},{"k":"d31","x":3.28,"y":3.64},
{"k":"d32","x":2.414,"y":3.42},{"k":"d32","x":2.847,"y":3.38},{"k":"d32","x":3.28,"y":3.34},
{"k":"d33","x":2.414,"y":3.38},{"k":"d33","x":2.631,"y":3.3},{"k":"d33","x":2.847,"y":3.25},{"k":"d33","x":3.064,"y":3.2},{"k":"d33","x":3.28,"y":3.18},
{"k":"d34","x":2.414,"y":3.01},{"k":"d34","x":2.847,"y":3.07},{"k":"d34","x":3.28,"y":3.11},
{"k":"d35","x":2.414,"y":2.87},{"k":"d35","x":2.847,"y":2.87},{"k":"d35","x":3.28,"y":2.87},
{"k":"d36","x":2.414,"y":2.52},{"k":"d36","x":2.847,"y":2.5},{"k":"d36","x":3.28,"y":2.5},
{"k":"d37","x":2.414,"y":2.52},{"k":"d37","x":2.631,"y":2.45},{"k":"d37","x":2.847,"y":2.35},{"k":"d37","x":3.064,"y":2.25},{"k":"d37","x":3.28,"y":2.15},
{"k":"d38","x":2.414,"y":1.78},{"k":"d38","x":2.631,"y":1.78},{"k":"d38","x":2.847,"y":1.85},{"k":"d38","x":3.064,"y":2.0},{"k":"d38","x":3.28,"y":2.11},
{"k":"d39","x":2.414,"y":1.78},{"k":"d39","x":2.631,"y":1.8},{"k":"d39","x":2.847,"y":1.88},{"k":"d39","x":3.064,"y":1.98},{"k":"d39","x":3.28,"y":2.11},
{"k":"d40","x":2.414,"y":0},{"k":"d40","x":2.631,"y":0.98},{"k":"d40","x":2.847,"y":1.95},{"k":"d40","x":3.064,"y":2.75},{"k":"d40","x":3.28,"y":3.09},
{"k":"d41","x":2.414,"y":0},{"k":"d41","x":2.631,"y":0.57},{"k":"d41","x":2.847,"y":1.13},{"k":"d41","x":3.064,"y":1.65},{"k":"d41","x":3.28,"y":1.95},
{"k":"d42","x":2.414,"y":8.03},{"k":"d42","x":2.631,"y":8.0},{"k":"d42","x":2.847,"y":7.9},{"k":"d42","x":3.064,"y":7.75},{"k":"d42","x":3.28,"y":7.66},

{"k":"e1","x":3.28,"y":9.31},{"k":"e1","x":3.497,"y":9.3},{"k":"e1","x":3.713,"y":9.26},{"k":"e1","x":3.93,"y":9.16},{"k":"e1","x":4.146,"y":9.07},
{"k":"e2","x":3.28,"y":8.81},{"k":"e2","x":3.497,"y":8.84},{"k":"e2","x":3.713,"y":8.86},{"k":"e2","x":3.93,"y":8.88},{"k":"e2","x":4.146,"y":8.89},
{"k":"e3","x":3.28,"y":8.81},{"k":"e3","x":3.497,"y":8.76},{"k":"e3","x":3.713,"y":8.7},{"k":"e3","x":3.93,"y":8.75},{"k":"e3","x":4.146,"y":8.89},
{"k":"e4","x":3.28,"y":8.21},{"k":"e4","x":3.497,"y":8.32},{"k":"e4","x":3.713,"y":8.35},{"k":"e4","x":3.93,"y":8.32},{"k":"e4","x":4.146,"y":8.31},
{"k":"e5","x":3.28,"y":8.21},{"k":"e5","x":3.497,"y":8.15},{"k":"e5","x":3.713,"y":8.1},{"k":"e5","x":3.93,"y":8.1},{"k":"e5","x":4.146,"y":8.12},
{"k":"e6","x":3.28,"y":7.88},{"k":"e6","x":3.497,"y":7.92},{"k":"e6","x":3.713,"y":7.96},{"k":"e6","x":3.93,"y":8.0},{"k":"e6","x":4.146,"y":8.03},
{"k":"e7","x":3.28,"y":7.83},{"k":"e7","x":3.497,"y":7.86},{"k":"e7","x":3.713,"y":7.9},{"k":"e7","x":3.93,"y":7.92},{"k":"e7","x":4.146,"y":7.94},
{"k":"e8","x":3.28,"y":7.66},{"k":"e8","x":3.713,"y":7.66},{"k":"e8","x":4.146,"y":7.66},
{"k":"e9","x":3.28,"y":7.66},{"k":"e9","x":3.497,"y":7.6},{"k":"e9","x":3.713,"y":7.56},{"k":"e9","x":3.93,"y":7.55},{"k":"e9","x":4.146,"y":7.57},
{"k":"e10","x":3.28,"y":7.34},{"k":"e10","x":3.713,"y":7.28},{"k":"e10","x":4.146,"y":7.27},
{"k":"e11","x":3.28,"y":6.99},{"k":"e11","x":3.497,"y":7.1},{"k":"e11","x":3.713,"y":7.2},{"k":"e11","x":3.93,"y":7.24},{"k":"e11","x":4.146,"y":7.25},
{"k":"e12","x":3.28,"y":6.99},{"k":"e12","x":3.497,"y":6.95},{"k":"e12","x":3.713,"y":7.0},{"k":"e12","x":3.93,"y":7.1},{"k":"e12","x":4.146,"y":7.23},
{"k":"e13","x":3.28,"y":6.99},{"k":"e13","x":3.497,"y":6.9},{"k":"e13","x":3.713,"y":6.88},{"k":"e13","x":3.93,"y":7.0},{"k":"e13","x":4.146,"y":7.16},
{"k":"e14","x":3.28,"y":6.62},{"k":"e14","x":3.497,"y":6.55},{"k":"e14","x":3.76,"y":6.35},{"k":"e14","x":3.93,"y":6.75},{"k":"e14","x":4.146,"y":7.23},
{"k":"e15","x":3.28,"y":7.34},{"k":"e15","x":3.497,"y":7.0},{"k":"e15","x":3.713,"y":6.6},{"k":"e15","x":3.93,"y":6.2},{"k":"e15","x":4.146,"y":5.91},
{"k":"e16","x":3.28,"y":6.48},{"k":"e16","x":3.497,"y":6.4},{"k":"e16","x":3.713,"y":6.3},{"k":"e16","x":3.93,"y":6.1},{"k":"e16","x":4.146,"y":5.91},
{"k":"e17","x":3.28,"y":6.06},{"k":"e17","x":3.713,"y":6.0},{"k":"e17","x":4.146,"y":5.91},
{"k":"e18","x":3.28,"y":5.64},{"k":"e18","x":3.713,"y":5.66},{"k":"e18","x":4.146,"y":5.67},
{"k":"e19","x":3.28,"y":5.22},{"k":"e19","x":3.497,"y":5.25},{"k":"e19","x":3.713,"y":5.3},{"k":"e19","x":3.93,"y":5.38},{"k":"e19","x":4.146,"y":5.42},
{"k":"e20","x":3.28,"y":5.22},{"k":"e20","x":3.497,"y":5.28},{"k":"e20","x":3.713,"y":5.35},{"k":"e20","x":3.93,"y":5.38},{"k":"e20","x":4.146,"y":5.39},
{"k":"e21","x":3.28,"y":5.1},{"k":"e21","x":3.497,"y":5.2},{"k":"e21","x":3.713,"y":5.28},{"k":"e21","x":3.93,"y":5.32},{"k":"e21","x":4.146,"y":5.34},
{"k":"e22","x":3.28,"y":5.0},{"k":"e22","x":3.497,"y":5.05},{"k":"e22","x":3.713,"y":5.12},{"k":"e22","x":3.93,"y":5.18},{"k":"e22","x":4.146,"y":5.2},
{"k":"e23","x":3.28,"y":4.93},{"k":"e23","x":3.497,"y":5.0},{"k":"e23","x":3.713,"y":5.08},{"k":"e23","x":3.93,"y":5.14},{"k":"e23","x":4.146,"y":5.17},
{"k":"e24","x":3.28,"y":4.93},{"k":"e24","x":3.713,"y":4.99},{"k":"e24","x":4.146,"y":5.02},
{"k":"e25","x":3.28,"y":4.79},{"k":"e25","x":3.497,"y":4.85},{"k":"e25","x":3.713,"y":4.9},{"k":"e25","x":3.93,"y":4.93},{"k":"e25","x":4.146,"y":4.95},
{"k":"e26","x":3.28,"y":4.79},{"k":"e26","x":3.713,"y":4.85},{"k":"e26","x":4.146,"y":4.88},
{"k":"e27","x":3.28,"y":4.44},{"k":"e27","x":3.497,"y":4.55},{"k":"e27","x":3.713,"y":4.68},{"k":"e27","x":3.93,"y":4.78},{"k":"e27","x":4.146,"y":4.83},
{"k":"e28","x":3.28,"y":4.38},{"k":"e28","x":3.497,"y":4.5},{"k":"e28","x":3.713,"y":4.65},{"k":"e28","x":3.93,"y":4.74},{"k":"e28","x":4.146,"y":4.79},
{"k":"e29","x":3.28,"y":4.44},{"k":"e29","x":3.497,"y":4.5},{"k":"e29","x":3.713,"y":4.58},{"k":"e29","x":3.93,"y":4.65},{"k":"e29","x":4.146,"y":4.69},
{"k":"e30","x":3.28,"y":4.38},{"k":"e30","x":3.497,"y":4.42},{"k":"e30","x":3.713,"y":4.5},{"k":"e30","x":3.93,"y":4.56},{"k":"e30","x":4.146,"y":4.6},
{"k":"e31","x":3.28,"y":4.05},{"k":"e31","x":3.497,"y":4.2},{"k":"e31","x":3.713,"y":4.35},{"k":"e31","x":3.93,"y":4.45},{"k":"e31","x":4.146,"y":4.51},
{"k":"e32","x":3.28,"y":4.05},{"k":"e32","x":3.497,"y":4.12},{"k":"e32","x":3.713,"y":4.22},{"k":"e32","x":3.93,"y":4.32},{"k":"e32","x":4.146,"y":4.38},
{"k":"e33","x":3.28,"y":3.9},{"k":"e33","x":3.497,"y":4.0},{"k":"e33","x":3.713,"y":4.1},{"k":"e33","x":3.93,"y":4.18},{"k":"e33","x":4.146,"y":4.24},
{"k":"e34","x":3.28,"y":3.78},{"k":"e34","x":3.497,"y":3.85},{"k":"e34","x":3.713,"y":3.95},{"k":"e34","x":3.93,"y":4.02},{"k":"e34","x":4.146,"y":4.06},
{"k":"e35","x":3.28,"y":3.78},{"k":"e35","x":3.497,"y":3.82},{"k":"e35","x":3.713,"y":3.9},{"k":"e35","x":3.93,"y":3.97},{"k":"e35","x":4.146,"y":4.03},
{"k":"e36","x":3.28,"y":3.64},{"k":"e36","x":3.713,"y":3.72},{"k":"e36","x":4.146,"y":3.8},
{"k":"e37","x":3.28,"y":3.64},{"k":"e37","x":3.713,"y":3.66},{"k":"e37","x":4.146,"y":3.69},
{"k":"e38","x":3.28,"y":3.34},{"k":"e38","x":3.713,"y":3.38},{"k":"e38","x":4.146,"y":3.42},
{"k":"e39","x":3.28,"y":3.18},{"k":"e39","x":3.497,"y":3.22},{"k":"e39","x":3.713,"y":3.28},{"k":"e39","x":3.93,"y":3.33},{"k":"e39","x":4.146,"y":3.37},
{"k":"e40","x":3.28,"y":2.87},{"k":"e40","x":3.713,"y":2.9},{"k":"e40","x":4.146,"y":2.91},
{"k":"e41","x":3.28,"y":3.11},{"k":"e41","x":3.497,"y":2.95},{"k":"e41","x":3.713,"y":2.7},{"k":"e41","x":3.93,"y":2.5},{"k":"e41","x":4.146,"y":2.32},
{"k":"e42","x":3.28,"y":3.09},{"k":"e42","x":3.497,"y":2.9},{"k":"e42","x":3.713,"y":2.62},{"k":"e42","x":3.93,"y":2.25},{"k":"e42","x":4.146,"y":1.83},
{"k":"e43","x":3.28,"y":2.5},{"k":"e43","x":3.497,"y":2.48},{"k":"e43","x":3.713,"y":2.42},{"k":"e43","x":3.93,"y":2.36},{"k":"e43","x":4.146,"y":2.32},
{"k":"e44","x":3.28,"y":2.15},{"k":"e44","x":3.497,"y":2.28},{"k":"e44","x":3.713,"y":2.2},{"k":"e44","x":3.93,"y":1.95},{"k":"e44","x":4.146,"y":1.72},
{"k":"e45","x":3.28,"y":2.11},{"k":"e45","x":3.497,"y":2.05},{"k":"e45","x":3.713,"y":1.95},{"k":"e45","x":3.93,"y":1.82},{"k":"e45","x":4.146,"y":1.72},
{"k":"e46","x":3.28,"y":2.11},{"k":"e46","x":3.497,"y":1.98},{"k":"e46","x":3.713,"y":1.78},{"k":"e46","x":3.93,"y":1.55},{"k":"e46","x":4.146,"y":1.38},
{"k":"e47","x":3.28,"y":1.95},{"k":"e47","x":3.497,"y":1.85},{"k":"e47","x":3.713,"y":1.7},{"k":"e47","x":3.93,"y":1.5},{"k":"e47","x":4.146,"y":1.38},
{"k":"e48","x":3.28,"y":7.34},{"k":"e48","x":3.497,"y":7.42},{"k":"e48","x":3.713,"y":7.52},{"k":"e48","x":3.93,"y":7.6},{"k":"e48","x":4.146,"y":7.66}
],
"side":[
{"k":"f1","x":0,"y":9.3},{"k":"f1","x":0.25,"y":9.3},{"k":"f1","x":0.5,"y":9.3},
{"k":"f2","x":0,"y":8.81},{"k":"f2","x":0.125,"y":8.87},{"k":"f2","x":0.25,"y":8.91},{"k":"f2","x":0.375,"y":8.93},{"k":"f2","x":0.5,"y":8.94},
{"k":"f3","x":0,"y":8.81},{"k":"f3","x":0.25,"y":8.82},{"k":"f3","x":0.5,"y":8.83},
{"k":"f4","x":0,"y":8.81},{"k":"f4","x":0.125,"y":8.77},{"k":"f4","x":0.25,"y":8.74},{"k":"f4","x":0.375,"y":8.71},{"k":"f4","x":0.5,"y":8.7},
{"k":"f5","x":0,"y":8.23},{"k":"f5","x":0.125,"y":8.3},{"k":"f5","x":0.25,"y":8.34},{"k":"f5","x":0.375,"y":8.36},{"k":"f5","x":0.5,"y":8.36},
{"k":"f6","x":0,"y":8.23},{"k":"f6","x":0.125,"y":8.18},{"k":"f6","x":0.25,"y":8.13},{"k":"f6","x":0.375,"y":8.11},{"k":"f6","x":0.5,"y":8.1},
{"k":"f7","x":0,"y":7.99},{"k":"f7","x":0.25,"y":7.99},{"k":"f7","x":0.5,"y":8.0},
{"k":"f8","x":0,"y":7.88},{"k":"f8","x":0.25,"y":7.87},{"k":"f8","x":0.5,"y":7.86},
{"k":"f9","x":0,"y":7.66},{"k":"f9","x":0.25,"y":7.72},{"k":"f9","x":0.5,"y":7.76},
{"k":"f10","x":0,"y":7.66},{"k":"f10","x":0.25,"y":7.7},{"k":"f10","x":0.5,"y":7.73},
{"k":"f11","x":0,"y":7.66},{"k":"f11","x":0.25,"y":7.6},{"k":"f11","x":0.5,"y":7.57},
{"k":"f12","x":0,"y":7.36},{"k":"f12","x":0.25,"y":7.45},{"k":"f12","x":0.5,"y":7.51},
{"k":"f13","x":0,"y":7.36},{"k":"f13","x":0.25,"y":7.34},{"k":"f13","x":0.5,"y":7.33},
{"k":"f14","x":0,"y":7.36},{"k":"f14","x":0.25,"y":7.25},{"k":"f14","x":0.5,"y":7.12},
{"k":"f15","x":0,"y":6.99},{"k":"f15","x":0.25,"y":6.96},{"k":"f15","x":0.5,"y":6.94},
{"k":"f16","x":0,"y":6.99},{"k":"f16","x":0.25,"y":6.9},{"k":"f16","x":0.5,"y":6.82},
{"k":"f17","x":0,"y":6.99},{"k":"f17","x":0.125,"y":6.7},{"k":"f17","x":0.25,"y":6.4},{"k":"f17","x":0.375,"y":6.05},{"k":"f17","x":0.5,"y":5.81},
{"k":"f18","x":0,"y":6.6},{"k":"f18","x":0.25,"y":6.5},{"k":"f18","x":0.5,"y":6.36},
{"k":"f19","x":0,"y":6.48},{"k":"f19","x":0.25,"y":6.38},{"k":"f19","x":0.5,"y":6.26},
{"k":"f20","x":0,"y":6.48},{"k":"f20","x":0.25,"y":6.3},{"k":"f20","x":0.5,"y":6.16},
{"k":"f21","x":0,"y":6.06},{"k":"f21","x":0.25,"y":6.15},{"k":"f21","x":0.5,"y":6.26},
{"k":"f22","x":0,"y":6.06},{"k":"f22","x":0.25,"y":5.9},{"k":"f22","x":0.5,"y":5.74},
{"k":"f23","x":0,"y":6.06},{"k":"f23","x":0.25,"y":5.85},{"k":"f23","x":0.5,"y":5.67},
{"k":"f24","x":0,"y":5.64},{"k":"f24","x":0.25,"y":5.6},{"k":"f24","x":0.5,"y":5.54},
{"k":"f25","x":0,"y":5.64},{"k":"f25","x":0.25,"y":5.55},{"k":"f25","x":0.5,"y":5.44},
{"k":"f26","x":0,"y":5.22},{"k":"f26","x":0.25,"y":5.18},{"k":"f26","x":0.5,"y":5.14},
{"k":"f27","x":0,"y":5.12},{"k":"f27","x":0.25,"y":5.07},{"k":"f27","x":0.5,"y":5.02},
{"k":"f28","x":0,"y":5.02},{"k":"f28","x":0.25,"y":4.97},{"k":"f28","x":0.5,"y":4.93},
{"k":"f29","x":0,"y":4.82},{"k":"f29","x":0.25,"y":4.8},{"k":"f29","x":0.5,"y":4.77},
{"k":"f30","x":0,"y":4.47},{"k":"f30","x":0.25,"y":4.58},{"k":"f30","x":0.5,"y":4.67},
{"k":"f31","x":0,"y":4.47},{"k":"f31","x":0.25,"y":4.53},{"k":"f31","x":0.5,"y":4.58},
{"k":"f32","x":0,"y":4.39},{"k":"f32","x":0.25,"y":4.42},{"k":"f32","x":0.5,"y":4.45},
{"k":"f33","x":0,"y":4.39},{"k":"f33","x":0.25,"y":4.33},{"k":"f33","x":0.5,"y":4.28},
{"k":"f34","x":0,"y":4.04},{"k":"f34","x":0.25,"y":4.1},{"k":"f34","x":0.5,"y":4.13},
{"k":"f35","x":0,"y":4.04},{"k":"f35","x":0.25,"y":4.0},{"k":"f35","x":0.5,"y":3.98},
{"k":"f36","x":0,"y":3.89},{"k":"f36","x":0.25,"y":3.84},{"k":"f36","x":0.5,"y":3.79},
{"k":"f37","x":0,"y":3.77},{"k":"f37","x":0.25,"y":3.75},{"k":"f37","x":0.5,"y":3.74},
{"k":"f38","x":0,"y":3.64},{"k":"f38","x":0.25,"y":3.6},{"k":"f38","x":0.5,"y":3.57},
{"k":"f39","x":0,"y":3.64},{"k":"f39","x":0.25,"y":3.55},{"k":"f39","x":0.5,"y":3.49},
{"k":"f40","x":0,"y":3.35},{"k":"f40","x":0.25,"y":3.36},{"k":"f40","x":0.5,"y":3.36},
{"k":"f41","x":0,"y":3.35},{"k":"f41","x":0.25,"y":3.28},{"k":"f41","x":0.5,"y":3.21},
{"k":"f42","x":0,"y":3.16},{"k":"f42","x":0.25,"y":3.13},{"k":"f42","x":0.5,"y":3.1},
{"k":"f43","x":0,"y":3.16},{"k":"f43","x":0.25,"y":3.08},{"k":"f43","x":0.5,"y":3.01},
{"k":"f44","x":0,"y":2.88},{"k":"f44","x":0.25,"y":2.84},{"k":"f44","x":0.5,"y":2.8},
{"k":"f45","x":0,"y":2.5},{"k":"f45","x":0.25,"y":2.53},{"k":"f45","x":0.5,"y":2.56},
{"k":"f46","x":0,"y":2.5},{"k":"f46","x":0.25,"y":2.5},{"k":"f46","x":0.5,"y":2.5},
{"k":"f47","x":0,"y":2.17},{"k":"f47","x":0.25,"y":2.25},{"k":"f47","x":0.5,"y":2.32},
{"k":"f48","x":0,"y":2.17},{"k":"f48","x":0.25,"y":2.21},{"k":"f48","x":0.5,"y":2.24},
{"k":"f49","x":0,"y":2.17},{"k":"f49","x":0.25,"y":2.12},{"k":"f49","x":0.5,"y":2.09},
{"k":"f50","x":0,"y":2.11},{"k":"f50","x":0.25,"y":2.05},{"k":"f50","x":0.5,"y":2.0},
{"k":"f51","x":0,"y":1.96},{"k":"f51","x":0.25,"y":1.92},{"k":"f51","x":0.5,"y":1.89},
{"k":"f52","x":0,"y":2.11},{"k":"f52","x":0.125,"y":1.98},{"k":"f52","x":0.25,"y":1.72},{"k":"f52","x":0.375,"y":1.5},{"k":"f52","x":0.5,"y":1.38},
{"k":"f53","x":0,"y":1.96},{"k":"f53","x":0.125,"y":1.85},{"k":"f53","x":0.25,"y":1.58},{"k":"f53","x":0.375,"y":1.35},{"k":"f53","x":0.5,"y":1.23}
]
},
"hconcat":[
{
"width":1730,"height":1421,
"layer":[
{"data":{"values":[{}]},"mark":{"type":"rule","color":"#0000ff","strokeDash":[3,5],"strokeWidth":1.6},"encoding":{"y":{"datum":0,"type":"quantitative","axis":null}}},
{"data":{"name":"main"},"mark":{"type":"line","color":"#ff0000","strokeWidth":4,"interpolate":"monotone","clip":true},
"encoding":{
"x":{"field":"x","type":"quantitative","scale":{"domain":[0,4.146],"nice":false,"zero":false},"axis":{"orient":"bottom","values":[0,1,1.707,2.414,3.28,4.146],"labelExpr":"datum.value < 0.5 ? 'Γ' : datum.value < 1.5 ? 'H' : datum.value < 2 ? 'N' : datum.value < 3 ? 'Γ' : datum.value < 4 ? 'P' : 'H'","title":null,"labelPadding":34,"labelOverlap":false,"labelBound":false,"labelFlush":false}},
"y":{"field":"y","type":"quantitative","scale":{"domain":[-0.4735,9.9435],"nice":false,"zero":false},"axis":{"orient":"left","values":[0,2,4,6,8],"title":"Frequency","titleX":-73,"titleY":714,"titleAngle":270,"titleBaseline":"bottom","titleAlign":"center"}},
"detail":{"field":"k"}}},
{"data":{"name":"main"},"mark":{"type":"point","opacity":0},
"encoding":{
"x":{"field":"x","type":"quantitative","axis":{"orient":"top","labels":false,"values":[0,1,1.707,2.414,3.28,4.146],"title":null}},
"y":{"field":"y","type":"quantitative","axis":{"orient":"right","labels":false,"values":[0,2,4,6,8],"title":null}}}}
],
"resolve":{"axis":{"x":"independent","y":"independent"}}
},
{
"width":208,"height":1421,
"layer":[
{"data":{"values":[{}]},"mark":{"type":"rule","color":"#0000ff","strokeDash":[3,5],"strokeWidth":1.6},"encoding":{"y":{"datum":0,"type":"quantitative","axis":null}}},
{"data":{"name":"side"},"mark":{"type":"line","color":"#ff0000","strokeWidth":4,"interpolate":"monotone","clip":true},
"encoding":{
"x":{"field":"x","type":"quantitative","scale":{"domain":[0,0.5],"nice":false,"zero":false},"axis":{"orient":"bottom","values":[0,0.5],"labelExpr":"datum.value < 0.25 ? 'P' : 'N'","title":null,"labelPadding":34,"labelOverlap":false,"labelBound":false,"labelFlush":false}},
"y":{"field":"y","type":"quantitative","scale":{"domain":[-0.4735,9.9435],"nice":false,"zero":false},"axis":{"orient":"left","labels":false,"values":[0,2,4,6,8],"title":null}},
"detail":{"field":"k"}}},
{"data":{"name":"side"},"mark":{"type":"point","opacity":0},
"encoding":{
"x":{"field":"x","type":"quantitative","axis":{"orient":"top","labels":false,"values":[0,0.5],"title":null}},
"y":{"field":"y","type":"quantitative","axis":{"orient":"right","labels":false,"values":[0,2,4,6,8],"title":null}}}}
],
"resolve":{"axis":{"x":"independent","y":"independent"}}
}
]
}
